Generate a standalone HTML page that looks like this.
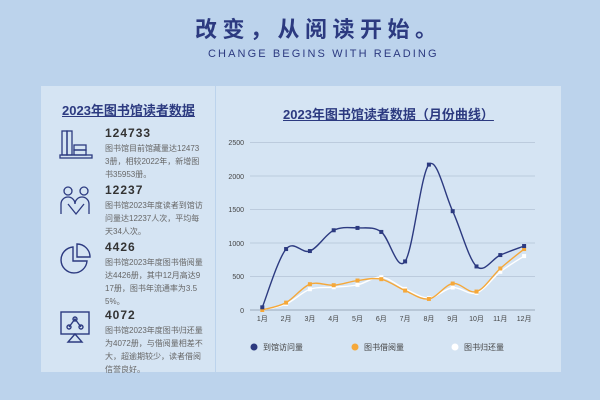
<!DOCTYPE html>
<html><head><meta charset="utf-8">
<style>
*{margin:0;padding:0;box-sizing:border-box}
body{width:600px;height:400px;background:#bcd3ec;font-family:"Liberation Sans","Noto Sans CJK SC",sans-serif;position:relative;overflow:hidden;color:#2a3580}
.t1{position:absolute;top:12px;left:195px;white-space:nowrap;font-size:22px;font-weight:bold;letter-spacing:5.5px;color:#2c3a80}
.t2{position:absolute;top:48px;left:208px;white-space:nowrap;font-size:11px;letter-spacing:2.1px;color:#2c3a80}
.pl{position:absolute;left:41px;top:86px;width:174px;height:286px;background:#d5e4f3}
.pr{position:absolute;left:216px;top:86px;width:345px;height:286px;background:#d5e4f3}
.h{font-size:13px;font-weight:bold;text-decoration:underline;color:#2c3a80;position:absolute;white-space:nowrap}
.it{position:absolute;left:64px;width:98px}
.n{font-size:12px;font-weight:bold;color:#333;letter-spacing:1px;line-height:14px}
.d{font-size:8px;color:#666;line-height:13px;margin-top:2px;word-break:break-all}
.ic{position:absolute;left:18px}
</style></head><body>
<div class="t1">改变，从阅读开始。</div>
<div class="t2">CHANGE BEGINS WITH READING</div>
<div class="pl">
 <div class="h" style="left:21px;top:14px">2023年图书馆读者数据</div>
 <svg class="ic" style="top:43px" width="36" height="32" viewBox="0 0 36 32" fill="none" stroke="#2c3a80" stroke-width="1.3"><rect x="3" y="2" width="5" height="24"/><rect x="8" y="2" width="5" height="24"/><rect x="15" y="16" width="12" height="5"/><rect x="15" y="21" width="12" height="5"/><rect x="1" y="26" width="32" height="3"/></svg>
 <div class="it" style="top:40px"><div class="n">124733</div><div class="d">图书馆目前馆藏量达124733册，相较2022年，新增图书35953册。</div></div>
 <svg class="ic" style="top:100px" width="34" height="34" viewBox="0 0 34 34" fill="none" stroke="#2c3a80" stroke-width="1.3"><circle cx="9" cy="5" r="4"/><circle cx="25" cy="5" r="4"/><path d="M2 28V18a7 7 0 0 1 14 0 M16 18a7 7 0 0 1 14 0V28 M9 18l8 10 8-10"/></svg>
 <div class="it" style="top:97px"><div class="n">12237</div><div class="d">图书馆2023年度读者到馆访问量达12237人次，平均每天34人次。</div></div>
 <svg class="ic" style="top:156px" width="34" height="34" viewBox="0 0 34 34" fill="none" stroke="#2c3a80" stroke-width="1.4"><path d="M14 5a13 13 0 1 0 14 14H14Z"/><path d="M18 2a13 13 0 0 1 13 13H18Z"/></svg>
 <div class="it" style="top:154px"><div class="n">4426</div><div class="d">图书馆2023年度图书借阅量达4426册，其中12月高达917册，图书年流通率为3.55%。</div></div>
 <svg class="ic" style="top:224px" width="34" height="34" viewBox="0 0 34 34" fill="none" stroke="#2c3a80" stroke-width="1.4"><rect x="2" y="2" width="28" height="22"/><path d="M10 17l6-8 6 8M16 24l-7 8h14z"/><circle cx="10" cy="17" r="2"/><circle cx="16" cy="9" r="2"/><circle cx="22" cy="17" r="2"/></svg>
 <div class="it" style="top:222px"><div class="n">4072</div><div class="d">图书馆2023年度图书归还量为4072册，与借阅量相差不大，超逾期较少，读者借阅信誉良好。</div></div>
</div>
<div class="pr"><div class="h" style="left:67px;top:18px">2023年图书馆读者数据（月份曲线）</div></div>
<svg id="c" style="position:absolute;left:0;top:0" width="600" height="400" font-family="Liberation Sans,Noto Sans CJK SC,sans-serif" font-size="7" fill="#444">
<g stroke="#bccbdd" stroke-width="1">
<line x1="250" x2="535" y1="142.5" y2="142.5"/><line x1="250" x2="535" y1="176" y2="176"/><line x1="250" x2="535" y1="209.5" y2="209.5"/><line x1="250" x2="535" y1="243" y2="243"/><line x1="250" x2="535" y1="276.5" y2="276.5"/></g>
<line x1="250" x2="535" y1="310" y2="310" stroke="#9aaabb"/>
<g text-anchor="end"><text x="244" y="145">2500</text><text x="244" y="179">2000</text><text x="244" y="212">1500</text><text x="244" y="246">1000</text><text x="244" y="279">500</text><text x="244" y="313">0</text></g>
<g id="xl" text-anchor="middle"></g>
<g id="ln"></g>
<circle cx="254" cy="347" r="3.5" fill="#2c3a80"/><text x="263" y="350" font-size="8">到馆访问量</text>
<circle cx="355" cy="347" r="3.5" fill="#f5a83a"/><text x="364" y="350" font-size="8">图书借阅量</text>
<circle cx="455" cy="347" r="3.5" fill="#fff"/><text x="464" y="350" font-size="8">图书归还量</text>
</svg>
<script>
var X=i=>262.3+i*23.8,Y=v=>310-v*0.067;
var xl=document.getElementById('xl'),s='';
for(var i=0;i<12;i++)s+='<text x="'+X(i)+'" y="321">'+(i+1)+'月</text>';
xl.innerHTML=s;
function path(d){var p=d.map((v,i)=>[X(i),Y(v)]),r='M'+p[0];
for(var i=0;i<p.length-1;i++){var a=p[i-1]||p[i],b=p[i],c=p[i+1],e=p[i+2]||c;
r+='C'+(b[0]+(c[0]-a[0])/6)+','+(b[1]+(c[1]-a[1])/6)+' '+(c[0]-(e[0]-b[0])/6)+','+(c[1]-(e[1]-b[1])/6)+' '+c;}return r;}
var S=[[[0,90,310,340,375,490,315,180,335,255,570,805],'#fff'],[[0,110,385,370,440,460,290,165,395,275,620,910],'#f5a83a'],[[40,910,880,1190,1225,1165,725,2170,1475,650,820,955],'#2c3a80']],h='';
S.forEach(s=>{h+='<path d="'+path(s[0])+'" fill="none" stroke="'+s[1]+'" stroke-width="1.4"/>';
s[0].forEach((v,i)=>h+='<rect x="'+(X(i)-2)+'" y="'+(Y(v)-2)+'" width="4" height="4" fill="'+s[1]+'"/>');});
document.getElementById('ln').innerHTML=h;
</script>
</body></html>
